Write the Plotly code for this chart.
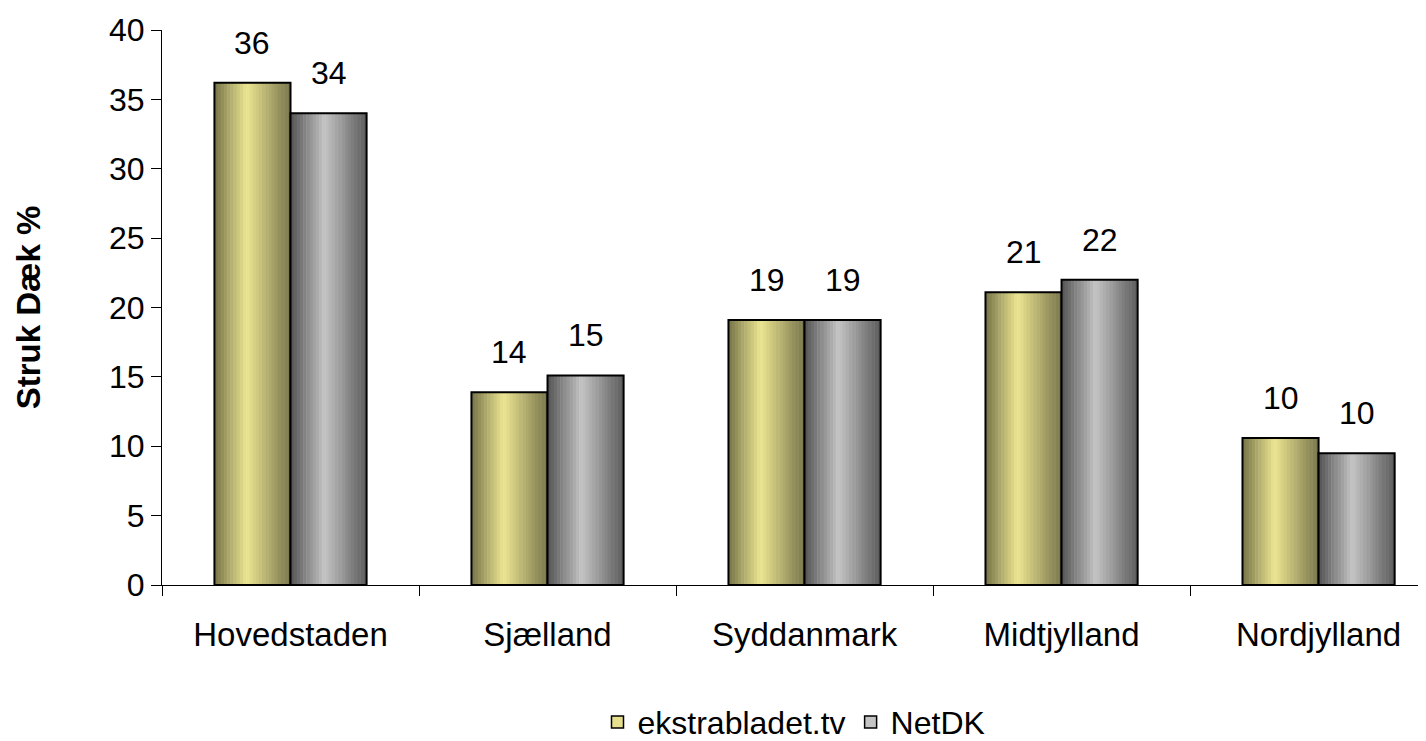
import plotly.graph_objects as go

# ---- data ----
categories = ["Hovedstaden", "Sjælland", "Syddanmark", "Midtjylland", "Nordjylland"]
series_names = ["ekstrabladet.tv", "NetDK"]
ekstrabladet_values = [36.2, 13.9, 19.1, 21.1, 10.6]
netdk_values = [34.0, 15.1, 19.1, 22.0, 9.5]
ekstrabladet_labels = ["36", "14", "19", "21", "10"]
netdk_labels = ["34", "15", "19", "22", "10"]
y_ticks = [0, 5, 10, 15, 20, 25, 30, 35, 40]

FONT = "Liberation Sans, Arial, sans-serif"
BAR_W = 0.296
N_STRIPES = 24

# gradient profiles (position, rgb)
yellow_profile = [(0.0, (118, 116, 72)), (0.42, (236, 229, 145)), (1.0, (120, 117, 76))]
gray_profile = [(0.0, (84, 84, 84)), (0.45, (196, 196, 196)), (1.0, (90, 90, 90))]


def interp(profile, t):
    for (p0, c0), (p1, c1) in zip(profile[:-1], profile[1:]):
        if p0 <= t <= p1:
            f = (t - p0) / (p1 - p0) if p1 > p0 else 0
            c = [round(a + (b - a) * f) for a, b in zip(c0, c1)]
            return "rgb(%d,%d,%d)" % tuple(c)
    c = profile[-1][1]
    return "rgb(%d,%d,%d)" % c


fig = go.Figure()

series = [
    (series_names[0], ekstrabladet_values, ekstrabladet_labels, yellow_profile, -BAR_W),
    (series_names[1], netdk_values, netdk_labels, gray_profile, 0.0),
]

for name, vals, labels, prof, off in series:
    sw = BAR_W / N_STRIPES
    for k in range(N_STRIPES):
        t = (k + 0.5) / N_STRIPES
        fig.add_trace(go.Bar(
            x=categories, y=vals,
            width=sw * 1.15, offset=off + k * sw,
            marker=dict(color=interp(prof, t), line=dict(width=0)),
            showlegend=False, hoverinfo="skip",
        ))
    # outline
    fig.add_trace(go.Bar(
        x=categories, y=vals, width=BAR_W, offset=off,
        marker=dict(color="rgba(0,0,0,0)", line=dict(color="black", width=2)),
        showlegend=False, name=name,
    ))
    # labels
    for i, (v, lab) in enumerate(zip(vals, labels)):
        fig.add_annotation(
            x=i + off + BAR_W / 2, y=v, xref="x", yref="y",
            text=lab, showarrow=False, yanchor="bottom", yshift=20,
            font=dict(family=FONT, size=32, color="black"),
        )

# legend-only traces
for name, prof in [(series_names[0], yellow_profile), (series_names[1], gray_profile)]:
    fig.add_trace(go.Bar(
        x=[categories[0]], y=[None], name=name,
        marker=dict(color=interp(prof, 0.45), line=dict(color="black", width=1.5)),
    ))

fig.update_layout(
    width=1418, height=733,
    barmode="overlay",
    paper_bgcolor="white", plot_bgcolor="white",
    margin=dict(l=154, r=0, t=22, b=156, autoexpand=False),
    font=dict(family=FONT, size=32, color="black"),
    showlegend=True,
    legend=dict(orientation="h", x=0.5, xanchor="center", y=-0.247, yanchor="middle",
                font=dict(family=FONT, size=32), itemwidth=30, tracegroupgap=0,
                traceorder="normal"),
    xaxis=dict(
        type="category", range=[-0.5, 4.418],
        showline=True, linecolor="black", linewidth=1,
        ticks="outside", tickson="boundaries", ticklen=10, tickcolor="black",
        tickfont=dict(family=FONT, size=33), ticklabelstandoff=20,
        showgrid=False, zeroline=False, fixedrange=True,
    ),
    yaxis=dict(
        range=[0, 40], tickvals=y_ticks,
        showline=True, linecolor="black", linewidth=1,
        ticks="outside", ticklen=10, tickcolor="black",
        tickfont=dict(family=FONT, size=32),
        showgrid=False, zeroline=False,
        title=dict(text="<b>Struk Dæk %</b>", font=dict(family=FONT, size=33), standoff=58),
    ),
)

fig.write_html("out.html")
